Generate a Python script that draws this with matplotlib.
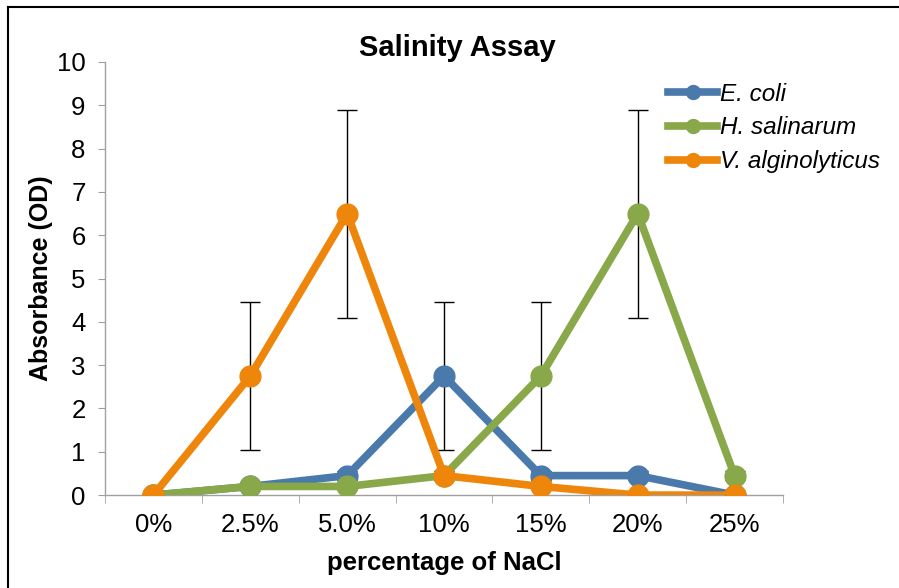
import numpy as np
import matplotlib
matplotlib.use("Agg")
import matplotlib.pyplot as plt
from matplotlib.lines import Line2D

plt.rcParams['font.family'] = ['Liberation Sans', 'DejaVu Sans']

categorias = ["0%", "2.5%", "5.0%", "10%", "15%", "20%", "25%"]

ecoli = [0, 0.2, 0.45, 2.75, 0.45, 0.45, 0]
ecoli_err = [0, 0, 0.1, 1.7, 0.1, 0.1, 0]
hsal = [0, 0.2, 0.2, 0.45, 2.75, 6.5, 0.45]
hsal_err = [0, 0, 0, 0, 1.7, 2.4, 0.1]
valg = [0, 2.75, 6.5, 0.45, 0.2, 0, 0]
valg_err = [0, 1.7, 2.4, 0.1, 0, 0, 0]

nombres = ["E. coli", "H. salinarum", "V. alginolyticus"]
colores = ["#4a7aab", "#88a84a", "#ee860c"]

x = np.arange(len(categorias))

fig = plt.figure(figsize=(8.99, 5.88), dpi=100)
ax = fig.add_axes([0.1168, 0.158, 0.7542, 0.7366])

series = [(ecoli, ecoli_err), (hsal, hsal_err), (valg, valg_err)]
for i, (vals, err) in enumerate(series):
	ax.plot(x, vals, color=colores[i], lw=5.5, marker='o', ms=15,
		solid_joinstyle='round', zorder=3 + i, label=nombres[i])
	ax.errorbar(x, vals, yerr=err, fmt='none', ecolor='black', elinewidth=1,
		capsize=7, capthick=1, zorder=2.5 + i)

ax.set_xlim(-0.5, len(categorias) - 0.5)
ax.set_ylim(0, 10)
ax.set_yticks(range(0, 11))
ax.set_xticks(x)
ax.set_xticklabels(categorias)
ax.set_xticks(np.arange(-0.5, len(categorias)), minor=True)

for s in ["top", "right"]:
	ax.spines[s].set_visible(False)
for s in ["left", "bottom"]:
	ax.spines[s].set_color("#a0a0a0")
	ax.spines[s].set_linewidth(1)

ax.tick_params(axis='x', which='major', length=0, labelsize=18.5, pad=13)
ax.tick_params(axis='x', which='minor', length=6, color="#a0a0a0", direction='out')
ax.tick_params(axis='y', length=5, color="#a0a0a0", labelsize=18.5, pad=9)

ax.set_title("Salinity Assay", fontsize=21, fontweight='bold', pad=-2, x=0.519)
ax.set_xlabel("percentage of NaCl", fontsize=18.5, fontweight='bold', labelpad=10)
ax.set_ylabel("Absorbance (OD)", fontsize=18, fontweight='bold', labelpad=3)

handles = [Line2D([], [], color=c, lw=5.5, marker='o', ms=10) for c in colores]
leg = ax.legend(handles, nombres, loc='upper left', bbox_to_anchor=(0.831, 0.952),
	frameon=False, fontsize=17.5, handlelength=2.0, handletextpad=0.12,
	labelspacing=0.44, borderaxespad=0, borderpad=0)
for t in leg.get_texts():
	t.set_fontstyle('italic')

# marco de la figura
fig.add_artist(Line2D([0.009, 0.009], [0, 0.988], color='black', lw=1.5, transform=fig.transFigure))
fig.add_artist(Line2D([0.009, 1], [0.988, 0.988], color='black', lw=1.5, transform=fig.transFigure))

fig.savefig("out.png", dpi=100)
